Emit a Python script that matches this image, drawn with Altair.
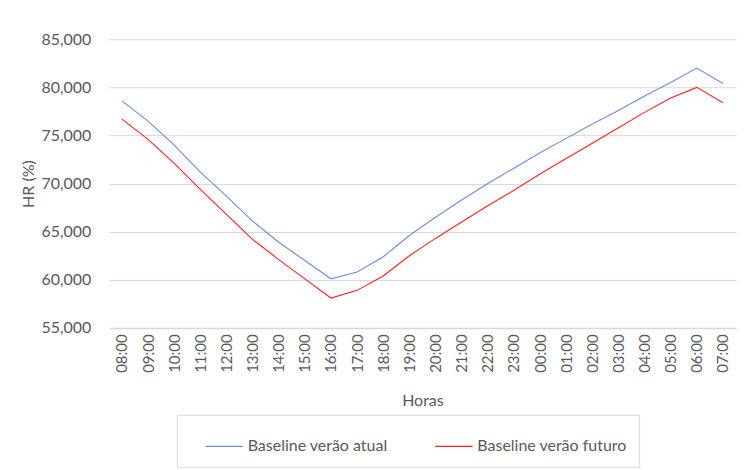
import altair as alt
import pandas as pd

horas = ["08:00", "09:00", "10:00", "11:00", "12:00", "13:00", "14:00", "15:00",
         "16:00", "17:00", "18:00", "19:00", "20:00", "21:00", "22:00", "23:00",
         "00:00", "01:00", "02:00", "03:00", "04:00", "05:00", "06:00", "07:00"]
atual = [78.6, 76.5, 74.0, 71.2, 68.7, 66.1, 63.9, 62.0, 60.1, 60.8, 62.4, 64.6,
         66.5, 68.3, 70.0, 71.6, 73.2, 74.7, 76.2, 77.6, 79.1, 80.5, 82.0, 80.4]
futuro = [76.7, 74.6, 72.1, 69.4, 66.8, 64.2, 62.1, 60.1, 58.1, 58.9, 60.4, 62.5,
          64.3, 66.0, 67.7, 69.3, 71.0, 72.6, 74.2, 75.8, 77.4, 78.9, 80.0, 78.4]
series = ["Baseline verão atual", "Baseline verão futuro"]

rows = []
for h, a, f in zip(horas, atual, futuro):
    rows.append({"Horas": h, "HR": a, "Serie": series[0]})
    rows.append({"Horas": h, "HR": f, "Serie": series[1]})
df = pd.DataFrame(rows)

FONT = "Lato"
GREY = "#595959"

chart = alt.Chart(df).mark_line(strokeWidth=1.1).encode(
    x=alt.X("Horas:O", sort=horas,
            scale=alt.Scale(type="point", padding=0.5),
            axis=alt.Axis(title="Horas", labelAngle=-90, labelAlign="right",
                          labelBaseline="middle", ticks=False, labelPadding=6,
                          domainColor="#d9d9d9", domainWidth=1.5,
                          titlePadding=20, grid=False)),
    y=alt.Y("HR:Q", scale=alt.Scale(domain=[55, 85], nice=False, zero=False),
            axis=alt.Axis(title="HR (%)", values=[55, 60, 65, 70, 75, 80, 85],
                          labelExpr="replace(format(datum.value, '.3f'), '.', ',')",
                          ticks=False, domain=False, labelPadding=18,
                          labelFontSize=16,
                          gridColor="#d9d9d9", titlePadding=4)),
    color=alt.Color("Serie:N", sort=series,
                    scale=alt.Scale(domain=series, range=["#6a8fd4", "#ff2020"]),
                    legend=alt.Legend(title=None, orient="none", direction="horizontal",
                                      legendX=68, legendY=376,
                                      symbolType="stroke", symbolSize=1400,
                                      symbolStrokeWidth=1.2, symbolOffset=16,
                                      strokeColor="#d9d9d9", padding=12,
                                      columnPadding=30)),
).properties(width=628, height=289).configure_view(stroke=None).configure_axis(
    labelFont=FONT, titleFont=FONT, labelColor=GREY, titleColor=GREY,
    labelFontSize=15, titleFontSize=16, titleFontWeight="normal"
).configure_legend(labelFont=FONT, labelColor=GREY, labelFontSize=16, labelLimit=300
).properties(padding={"left": 12, "top": 23, "right": 4, "bottom": 5})

chart.save("out.html", embed_options={"renderer": "svg", "actions": False})
